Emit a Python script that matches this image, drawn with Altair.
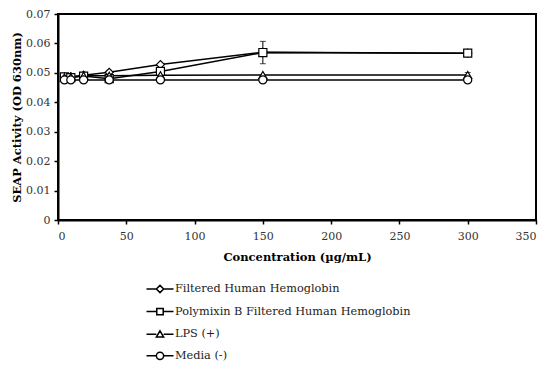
import altair as alt
import pandas as pd

conc = [4.6875, 9.375, 18.75, 37.5, 75, 150, 300]
series_names = [
    "Filtered Human Hemoglobin",
    "Polymixin B Filtered Human Hemoglobin",
    "LPS (+)",
    "Media (-)",
]
fhh = [0.0486, 0.0487, 0.0492, 0.0502, 0.0528, 0.0570, 0.0567]
pfhh = [0.0486, 0.0484, 0.0489, 0.0480, 0.0505, 0.0569, 0.0567]
lps = [0.0484, 0.0485, 0.0490, 0.0490, 0.0492, 0.0493, 0.0493]
media = [0.0476, 0.0476, 0.0476, 0.0476, 0.0476, 0.0476, 0.0476]
err_fhh = [0, 0, 0, 0, 0, 0.0005, 0.0005]
err_pfhh = [0, 0, 0, 0, 0, 0.0038, 0.0007]
err_lps = [0, 0, 0, 0, 0, 0, 0.0008]
err_media = [0, 0, 0, 0, 0, 0, 0]

x_ticks = [0, 50, 100, 150, 200, 250, 300, 350]
y_ticks = [0, 0.01, 0.02, 0.03, 0.04, 0.05, 0.06, 0.07]

shapes = ["diamond", "square", "triangle-up", "circle"]
legend_paths = [
    "M-2.6,0H-0.7M0.7,0H2.6M0,-0.7L0.7,0L0,0.7L-0.7,0Z",
    "M-2.6,0H-0.62M0.62,0H2.6M-0.62,-0.62H0.62V0.62H-0.62Z",
    "M-2.6,0H-0.7M0.7,0H2.6M0,-0.65L0.7,0.55H-0.7Z",
    "M-2.6,0H-0.7M0.7,0H2.6M0.7,0A0.7,0.7,0,1,1,-0.7,0A0.7,0.7,0,1,1,0.7,0Z",
]

rows = []
for name, vals, errs in zip(series_names, [fhh, pfhh, lps, media],
                            [err_fhh, err_pfhh, err_lps, err_media]):
    for c, v, e in zip(conc, vals, errs):
        rows.append({"conc": c, "val": v, "lo": v - e, "hi": v + e,
                     "series": name, "err": e})
df = pd.DataFrame(rows)

FONT = "DejaVu Serif"

xscale = alt.Scale(domain=[0, 350])
yscale = alt.Scale(domain=[0, 0.07])
xaxis = alt.Axis(values=x_ticks, title="Concentration (µg/mL)")
yaxis = alt.Axis(values=y_ticks, format="~g", title="SEAP Activity (OD 630nm)")


def X(field="conc"):
    return alt.X(f"{field}:Q", scale=xscale, axis=xaxis)


def Y(field):
    return alt.Y(f"{field}:Q", scale=yscale, axis=yaxis)


base = alt.Chart(df)

lines = base.mark_line(color="black", strokeWidth=1.5).encode(
    x=X(), y=Y("val"), detail="series:N", order="conc:Q")

err_base = base.transform_filter("datum.err > 0")
errbars = err_base.mark_rule(color="black", strokeWidth=1).encode(
    x=X(), y=Y("lo"), y2="hi:Q")
caps_hi = err_base.mark_tick(color="black", size=6, thickness=1,
                             orient="horizontal").encode(x=X(), y=Y("hi"))
caps_lo = err_base.mark_tick(color="black", size=6, thickness=1,
                             orient="horizontal").encode(x=X(), y=Y("lo"))

points = base.mark_point(filled=False, fill="white", fillOpacity=1,
                         stroke="black", strokeWidth=1.2, size=65,
                         opacity=1).encode(
    x=X(), y=Y("val"),
    shape=alt.Shape("series:N",
                    scale=alt.Scale(domain=series_names, range=shapes),
                    legend=None))

legend_layer = base.mark_point(filled=False, fill="white", fillOpacity=1,
                               stroke="black", strokeWidth=1.5, clip=True,
                               opacity=1).encode(
    x=X(), y=alt.value(-200),
    shape=alt.Shape("series:N",
                    scale=alt.Scale(domain=series_names, range=legend_paths),
                    legend=alt.Legend(title=None, orient="none",
                                      legendX=96, legendY=269,
                                      symbolSize=108, symbolStrokeWidth=1.5,
                                      symbolFillColor="white",
                                      labelOffset=9, rowPadding=8.6,
                                      labelLimit=400,
                                      labelFont=FONT, labelFontSize=11.3,
                                      labelColor="#222")))

chart = alt.layer(lines, errbars, caps_hi, caps_lo, points, legend_layer).resolve_scale(
    shape="independent"
).properties(
    width=478, height=206,
    autosize=alt.AutoSizeParams(type="none"),
    padding={"left": 50, "top": 6, "right": 6, "bottom": 143},
).configure_view(
    stroke="black", strokeWidth=2
).configure_axis(
    grid=False, domainColor="black", domainWidth=2, tickColor="black",
    tickSize=4, tickWidth=1.5, labelFont=FONT, labelFontSize=11,
    labelColor="#333", titleFont=FONT, titleFontSize=11.5, titleFontWeight="bold",
    titleColor="black", labelOverlap=False,
).configure_axisY(titlePadding=3, labelPadding=4).configure_axisX(
    titlePadding=10, labelPadding=6)

chart.save("out.html", embed_options={"renderer": "svg", "actions": False})
